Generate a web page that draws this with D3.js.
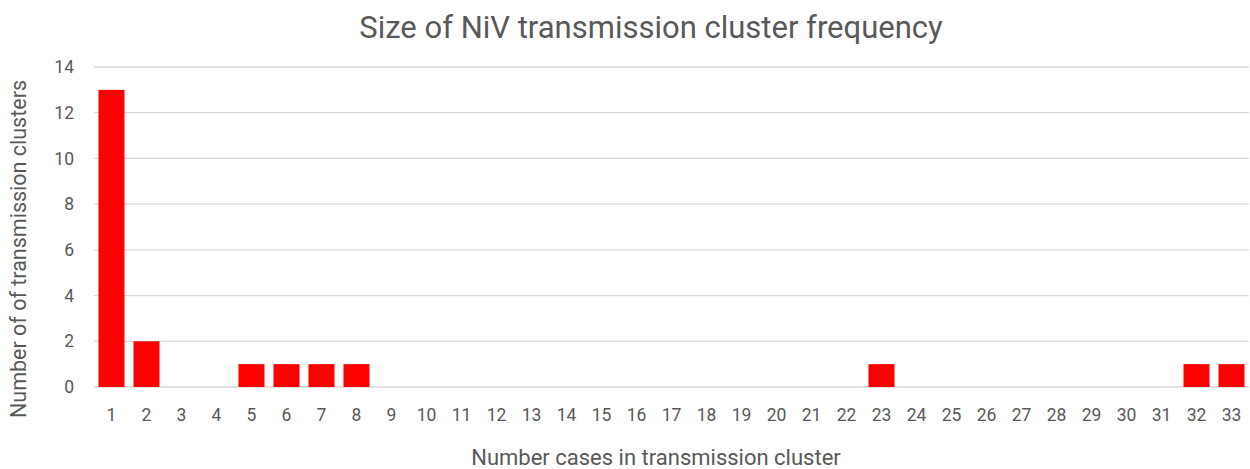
<!DOCTYPE html>
<html>
<head>
<meta charset="utf-8">
<script src="https://cdn.jsdelivr.net/npm/d3@7"></script>
<style>
  body { margin: 0; background: #fff; }
  text { font-family: Roboto, "Open Sans", sans-serif; fill: #595959; }
</style>
</head>
<body>
<svg id="chart" width="1250" height="469"></svg>
<script>
// cluster size categories and how many clusters had that size
var clusterSizes = d3.range(1, 34).map(String);
var clusterCounts = [13, 2, 0, 0, 1, 1, 1, 1, 0, 0, 0, 0, 0, 0, 0, 0, 0, 0, 0, 0, 0, 0, 1, 0, 0, 0, 0, 0, 0, 0, 0, 1, 1];
var yTicks = [0, 2, 4, 6, 8, 10, 12, 14];

var svg = d3.select("#chart");
var plotL = 94, plotR = 1249, plotT = 67, plotB = 387;

var x = d3.scaleBand().domain(clusterSizes).range([plotL, plotR]).paddingInner(0.257).paddingOuter(0.128);
var y = d3.scaleLinear().domain([0, 14]).range([plotB, plotT]);

// gridlines
svg.append("g").selectAll("line").data(yTicks).enter().append("line")
  .attr("x1", plotL).attr("x2", plotR)
  .attr("y1", function(d){ return y(d) }).attr("y2", function(d){ return y(d) })
  .attr("stroke", "#d9d9d9").attr("stroke-width", 1.3);

// bars
svg.append("g").selectAll("rect").data(clusterCounts).enter().append("rect")
  .attr("x", function(d, i){ return x(clusterSizes[i]) })
  .attr("width", x.bandwidth())
  .attr("y", function(d){ return y(d) })
  .attr("height", function(d){ return plotB - y(d) })
  .attr("fill", "#ff0000");

// y axis labels
var yAxis = svg.append("g").attr("transform", "translate(" + (plotL - 20) + ",0)")
  .call(d3.axisLeft(y).tickValues(yTicks).tickSize(0).tickPadding(0));
yAxis.select(".domain").remove();
yAxis.selectAll("text").attr("font-size", 17.5).attr("fill", "#595959")
  .style("font-family", "Roboto, 'Open Sans', sans-serif");

// x axis labels
var xAxis = svg.append("g").attr("transform", "translate(0," + (plotB + 22) + ")")
  .call(d3.axisBottom(x).tickSize(0).tickPadding(0));
xAxis.select(".domain").remove();
xAxis.selectAll("text").attr("font-size", 17.5).attr("fill", "#595959")
  .style("font-family", "Roboto, 'Open Sans', sans-serif");

// titles
svg.append("text").attr("x", 651).attr("y", 38).attr("text-anchor", "middle")
  .attr("font-size", 31).text("Size of NiV transmission cluster frequency");

svg.append("text").attr("x", 656).attr("y", 465).attr("text-anchor", "middle")
  .attr("font-size", 22).text("Number cases in transmission cluster");

svg.append("text").attr("transform", "translate(26," + 249 + ") rotate(-90)")
  .attr("text-anchor", "middle").attr("font-size", 21.5).text("Number of of transmission clusters");
</script>
</body>
</html>
